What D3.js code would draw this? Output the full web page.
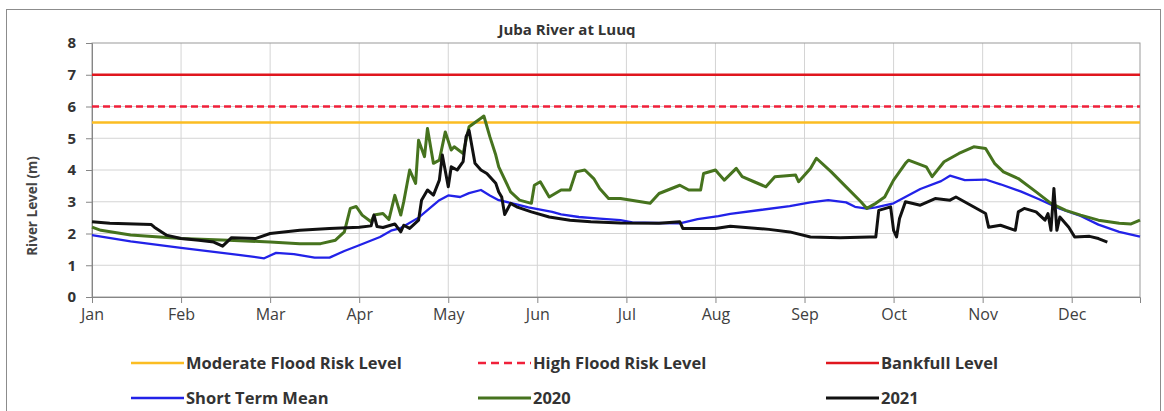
<!DOCTYPE html>
<html>
<head>
<meta charset="utf-8">
<script src="https://cdn.jsdelivr.net/npm/d3@7"></script>
<style>
  body { margin:0; background:#fff; }
  svg text { font-family: "Open Sans", "DejaVu Sans", sans-serif; }
</style>
</head>
<body>
<div class="canvas"></div>
<script>
// month labels sit on the 30-day gridlines
const months = ["Jan","Feb","Mar","Apr","May","Jun","Jul","Aug","Sep","Oct","Nov","Dec"]
const levelTicks = [0,1,2,3,4,5,6,7,8]

const moderateLevel = 5.5
const highLevel = 6
const bankfullLevel = 7

// [day, river level (m)]
const shortTermMean = [[0,1.95],[13,1.75],[30,1.55],[50,1.32],[58,1.22],[62,1.39],[68,1.35],[75,1.24],[80,1.24],[85,1.45],[90,1.63],[97,1.89],[101,2.1],[104,2.17],[110,2.5],[117,3.05],[120,3.2],[124,3.15],[127,3.27],[131,3.37],[134,3.2],[137,3.05],[143,2.92],[147,2.82],[151,2.75],[155,2.68],[158,2.6],[164,2.52],[171,2.47],[178,2.42],[182,2.35],[190,2.33],[198,2.32],[204,2.45],[211,2.55],[215,2.62],[225,2.74],[235,2.86],[242,2.98],[248,3.05],[254,2.98],[257,2.84],[261,2.78],[264,2.82],[270,2.95],[279,3.4],[286,3.65],[289,3.82],[294,3.68],[301,3.7],[306,3.55],[313,3.32],[319,3.08],[326,2.78],[333,2.55],[339,2.28],[346,2.05],[353,1.9]]

const year2020 = [[0,2.2],[3,2.1],[13,1.95],[30,1.84],[46,1.79],[60,1.73],[70,1.68],[77,1.68],[82,1.79],[85,2.05],[87,2.79],[89,2.85],[91,2.58],[94,2.37],[95,2.58],[98,2.63],[100,2.44],[102,3.2],[104,2.58],[105,3.0],[107,4.0],[109,3.58],[110,4.94],[112,4.42],[113,5.31],[115,4.21],[117,4.31],[119,5.2],[121,4.63],[122,4.73],[125,4.52],[127,5.36],[131,5.63],[132,5.7],[134,5.05],[136,4.47],[137,4.1],[141,3.31],[144,3.05],[148,2.95],[149,3.52],[151,3.63],[154,3.15],[158,3.37],[161,3.37],[163,3.94],[166,4.0],[169,3.73],[171,3.42],[174,3.1],[178,3.1],[188,2.95],[191,3.26],[198,3.52],[201,3.37],[205,3.37],[206,3.89],[210,4.0],[211,3.89],[213,3.68],[217,4.05],[219,3.79],[223,3.63],[227,3.47],[230,3.79],[237,3.84],[238,3.63],[242,4.05],[244,4.37],[249,3.94],[254,3.47],[259,3.0],[261,2.79],[264,2.95],[267,3.15],[270,3.68],[274,4.21],[275,4.31],[281,4.1],[283,3.79],[287,4.26],[292,4.52],[297,4.73],[301,4.68],[304,4.21],[307,3.94],[312,3.73],[318,3.31],[323,2.95],[328,2.73],[333,2.58],[339,2.42],[346,2.32],[350,2.3],[353,2.42]]

const year2021 = [[0,2.37],[6,2.32],[20,2.28],[21,2.2],[25,1.95],[30,1.84],[36,1.79],[41,1.73],[44,1.6],[47,1.87],[55,1.84],[60,2.0],[70,2.1],[80,2.16],[90,2.2],[94,2.24],[95,2.58],[96,2.22],[98,2.19],[102,2.3],[104,2.05],[105,2.26],[107,2.16],[110,2.42],[111,3.05],[113,3.37],[115,3.21],[117,3.68],[118,4.47],[120,3.47],[121,4.1],[123,4.0],[125,4.26],[126,5.05],[127,5.25],[129,4.21],[131,4.0],[133,3.89],[136,3.58],[137,3.31],[138,3.15],[139,2.6],[141,2.95],[143,2.84],[148,2.68],[154,2.52],[161,2.42],[168,2.37],[178,2.33],[191,2.32],[198,2.37],[199,2.16],[210,2.16],[215,2.23],[228,2.13],[235,2.05],[242,1.89],[252,1.87],[262,1.89],[264,1.89],[265,2.73],[269,2.84],[270,2.1],[271,1.89],[272,2.47],[274,3.0],[279,2.89],[284,3.1],[289,3.05],[291,3.15],[296,2.89],[301,2.63],[302,2.2],[306,2.26],[311,2.1],[312,2.68],[314,2.79],[318,2.68],[321,2.42],[322,2.63],[323,2.1],[324,3.42],[325,2.1],[326,2.52],[329,2.2],[331,1.89],[336,1.91],[339,1.84],[342,1.73]]

const dim = { width:1164, height:411 }
const plot = { left:92, top:43, right:1140, bottom:297 }

const svg = d3.select(".canvas").append("svg").attr("width",dim.width).attr("height",dim.height)

// outer chart frame
svg.append("rect").attr("x",6.5).attr("y",9.5).attr("width",1154).attr("height",410)
   .attr("fill","#fff").attr("stroke","#8c8c8c").attr("stroke-width",1)

const x = d3.scaleLinear().domain([0,353]).range([plot.left,plot.right])
const y = d3.scaleLinear().domain([0,8]).range([plot.bottom,plot.top])
const dayTicks = d3.range(0,331,30)

// grid
const grid = svg.append("g")
grid.selectAll(".vg").data(dayTicks.slice(1)).enter().append("line")
    .attr("x1",d=>x(d)).attr("x2",d=>x(d)).attr("y1",plot.top).attr("y2",plot.bottom)
    .attr("stroke","#d4d4d4").attr("stroke-width",1)
grid.selectAll(".hg").data(levelTicks.slice(1,8)).enter().append("line")
    .attr("x1",plot.left).attr("x2",plot.right).attr("y1",d=>y(d)).attr("y2",d=>y(d))
    .attr("stroke","#d4d4d4").attr("stroke-width",1)
svg.append("rect").attr("x",plot.left).attr("y",plot.top)
   .attr("width",plot.right-plot.left).attr("height",plot.bottom-plot.top)
   .attr("fill","none").attr("stroke","#9a9a9a")

// axes
const xAxis = svg.append("g").attr("transform",`translate(0,${plot.bottom})`)
   .call(d3.axisBottom(x).tickValues(dayTicks).tickSize(6).tickPadding(6).tickFormat((d,i)=>months[i]))
xAxis.select(".domain").attr("stroke","#868686")
xAxis.selectAll(".tick line").attr("stroke","#868686")
xAxis.selectAll("text").attr("font-size",16).attr("fill","#404040")

const yAxis = svg.append("g").attr("transform",`translate(${plot.left},0)`)
   .call(d3.axisLeft(y).tickValues(levelTicks).tickSize(6).tickPadding(10).tickFormat(d3.format("d")))
yAxis.select(".domain").attr("stroke","#868686")
yAxis.selectAll(".tick line").attr("stroke","#868686")
yAxis.selectAll("text").attr("font-size",15).attr("font-weight","bold").attr("fill","#333")

svg.append("text").attr("transform","translate(37,206) rotate(-90)")
   .attr("text-anchor","middle").attr("font-size",13.5).attr("font-weight","bold").attr("fill","#444")
   .text("River Level (m)")

svg.append("text").attr("x",567).attr("y",35).attr("text-anchor","middle")
   .attr("font-size",15).attr("font-weight","bold").attr("fill","#333")
   .text("Juba River at Luuq")

// threshold lines
const levels = [
  { name:"Moderate Flood Risk Level", value:moderateLevel, color:"#fbbd22", dash:null },
  { name:"High Flood Risk Level", value:highLevel, color:"#f0203a", dash:"7,4" },
  { name:"Bankfull Level", value:bankfullLevel, color:"#e0161e", dash:null }
]
svg.selectAll(".lvl").data(levels).enter().append("line")
   .attr("x1",plot.left).attr("x2",plot.right).attr("y1",d=>y(d.value)).attr("y2",d=>y(d.value))
   .attr("stroke",d=>d.color).attr("stroke-width",2.5).attr("stroke-dasharray",d=>d.dash)

// series
const series = [
  { name:"Short Term Mean", values:shortTermMean, color:"#2222e8", width:2.3 },
  { name:"2020", values:year2020, color:"#46731e", width:3 },
  { name:"2021", values:year2021, color:"#111111", width:3 }
]
const line = d3.line().x(d=>x(d[0])).y(d=>y(d[1]))
svg.selectAll(".series").data(series).enter().append("path")
   .attr("d",d=>line(d.values)).attr("fill","none")
   .attr("stroke",d=>d.color).attr("stroke-width",d=>d.width).attr("stroke-linejoin","round")

// legend, 3 columns x 2 rows
const legendItems = levels.concat(series)
const colX = [186, 533, 881]
const rowY = [363, 398]
const legend = svg.append("g")
const item = legend.selectAll("g").data(legendItems).enter().append("g")
   .attr("transform",(d,i)=>`translate(${colX[i%3]},${rowY[Math.floor(i/3)]})`)
item.append("line").attr("x1",-55).attr("x2",-2).attr("y1",0).attr("y2",0)
   .attr("stroke",d=>d.color).attr("stroke-width",d=>d.width || 2.5)
   .attr("stroke-dasharray",d=>d.dash ? "8,5" : null)
item.append("text").attr("x",0).attr("y",6).attr("font-size",16.5).attr("font-weight","bold")
   .attr("fill","#333").text(d=>d.name)
</script>
</body>
</html>
